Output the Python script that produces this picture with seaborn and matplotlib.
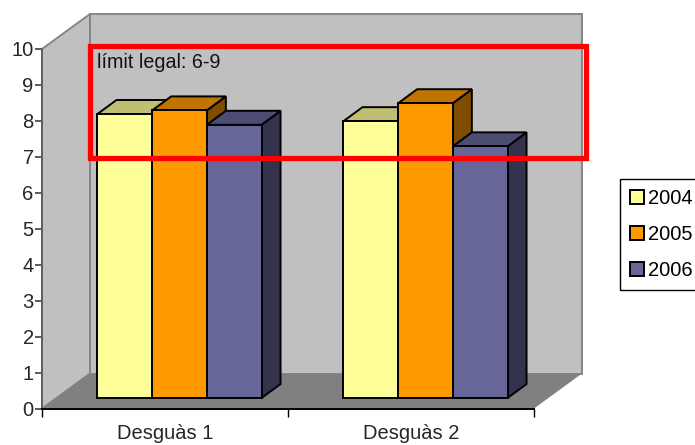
# -*- coding: utf-8 -*-
"""
Excel style 3D column chart of the two outfalls, 2004-2006, with the legal limit box.
"""
import pandas as pd
import seaborn as sns
from matplotlib import pyplot as plt
from matplotlib.colors import to_rgb
from matplotlib.patches import Polygon, Rectangle

#--------------------------Data-----------------------------------------------
categories = ['Desguàs 1', 'Desguàs 2']
years = ['2004', '2005', '2006']
values_2004 = [7.9, 7.7]
values_2005 = [8.0, 8.2]
values_2006 = [7.6, 7.0]
y_ticks = [0, 1, 2, 3, 4, 5, 6, 7, 8, 9, 10]
colors = ['#FFFF99', '#FF9900', '#666699']
limit_label = 'límit legal: 6-9'

#--------------------------Layout (pixels)------------------------------------
W, H = 695, 445
axis_left, axis_right, axis_bottom, axis_top = 42, 534, 408.5, 49
wall_dx, wall_dy = 48, 35
bars_dx, bars_dy = 14.5, 10.5
depth_dx, depth_dy = 19, 14
font_size = 14.5

sns.set_theme(style='white')
plt.rcParams['font.family'] = ['Liberation Sans', 'DejaVu Sans']
plt.rcParams['text.color'] = 'black'


def pixel_axes(fig, left, right, bottom, top, zorder):
    return fig.add_axes([left / W, 1 - bottom / H, (right - left) / W, (bottom - top) / H], zorder=zorder)


def darker(color, factor):
    return tuple(c * factor for c in to_rgb(color))


fig = plt.figure(figsize=(W / 100, H / 100), dpi=100)

#-------------------------Walls and floor-------------------------------------
ax_walls = pixel_axes(fig, 0, W, H, 0, 0)
ax_walls.set_xlim(0, W)
ax_walls.set_ylim(H, 0)
ax_walls.axis('off')
back_left = axis_left + wall_dx
back_right = axis_right + wall_dx
back_top = axis_top - wall_dy
back_bottom = axis_bottom - wall_dy
wall_kws = dict(facecolor='#C0C0C0', edgecolor='#868686', linewidth=1.4, joinstyle='miter')
ax_walls.add_patch(Polygon([(axis_left, axis_top), (back_left, back_top), (back_left, back_bottom),
                            (axis_left, axis_bottom)], **wall_kws))
ax_walls.add_patch(Polygon([(back_left, back_top), (back_right, back_top), (back_right, back_bottom),
                            (back_left, back_bottom)], **wall_kws))
ax_walls.add_patch(Polygon([(axis_left, axis_bottom), (back_left, back_bottom), (back_right, back_bottom),
                            (axis_right, axis_bottom)], facecolor='#808080', edgecolor='none'))

#-------------------------Front axes with ticks and labels--------------------
ax_front = pixel_axes(fig, axis_left, axis_right, axis_bottom, axis_top, 1)
ax_front.patch.set_alpha(0)
ax_front.set_xlim(-0.5, 1.5)
ax_front.set_ylim(0, 10)
ax_front.set_yticks(y_ticks)
ax_front.set_xticks([0, 1])
ax_front.set_xticklabels(categories)
ax_front.set_xticks([-0.5, 0.5, 1.5], minor=True)
ax_front.tick_params(axis='y', left=True, length=5, width=1.2, color='#404040', labelsize=font_size, pad=1)
ax_front.tick_params(axis='x', which='major', bottom=False, labelsize=font_size, pad=5)
ax_front.tick_params(axis='x', which='minor', bottom=True, length=6, width=1, color='black')
sns.despine(ax=ax_front)
ax_front.spines['left'].set(color='#606060', linewidth=1.4)
ax_front.spines['bottom'].set(color='black', linewidth=1.4)

#-------------------------Bars------------------------------------------------
bars_df = pd.DataFrame({
    'category': categories * 3,
    'year': [y for y in years for _ in categories],
    'value': values_2004 + values_2005 + values_2006,
})

ax_bars = pixel_axes(fig, axis_left + bars_dx, axis_right + bars_dx, axis_bottom - bars_dy,
                     axis_top - bars_dy, 2)
sns.barplot(data=bars_df, x='category', y='value', hue='year', palette=colors, width=0.667, gap=0,
            saturation=1, edgecolor='black', linewidth=1.4, ax=ax_bars)
ax_bars.set_xlim(-0.5, 1.5)
ax_bars.set_ylim(0, 10)
handles, labels = ax_bars.get_legend_handles_labels()
ax_bars.get_legend().remove()
ax_bars.axis('off')

#depth of each bar comes from the bar itself, so side and top follow the data
dx = depth_dx / ((axis_right - axis_left) / 2)
dy = depth_dy / ((axis_bottom - axis_top) / 10)
for i, container in enumerate(ax_bars.containers):
    for bar in container:
        x0, x1 = bar.get_x(), bar.get_x() + bar.get_width()
        h = bar.get_height()
        edge = dict(edgecolor='black', linewidth=1.4, clip_on=False, joinstyle='miter', zorder=3 + 3 * i)
        ax_bars.add_patch(Polygon([(x1, 0), (x1 + dx, dy), (x1 + dx, h + dy), (x1, h)],
                                  facecolor=darker(colors[i], 0.5), **edge))
        ax_bars.add_patch(Polygon([(x0, h), (x0 + dx, h + dy), (x1 + dx, h + dy), (x1, h)],
                                  facecolor=darker(colors[i], 0.75), **edge))
        bar.set_zorder(4 + 3 * i)
        bar.set_clip_on(False)

#-------------------------Legal limit box and note----------------------------
ax_over = pixel_axes(fig, 0, W, H, 0, 3)
ax_over.set_xlim(0, W)
ax_over.set_ylim(H, 0)
ax_over.axis('off')
ax_over.add_patch(Rectangle((89.5, 46), 496, 112, fill=False, edgecolor='#FF0000', linewidth=3.8,
                            joinstyle='miter'))
ax_over.text(97, 62, limit_label, fontsize=14.2, color='#111111', va='center', ha='left')

#-------------------------Legend----------------------------------------------
fig.legend(handles, labels, loc='upper left', bbox_to_anchor=(620 / W, 1 - 179 / H), borderaxespad=0,
           fontsize=font_size, frameon=True, fancybox=False, framealpha=1, edgecolor='black',
           handlelength=0.7, handleheight=0.7, handletextpad=0.2, labelspacing=0.85, borderpad=0.5)

fig.savefig('out.png', dpi=100)
